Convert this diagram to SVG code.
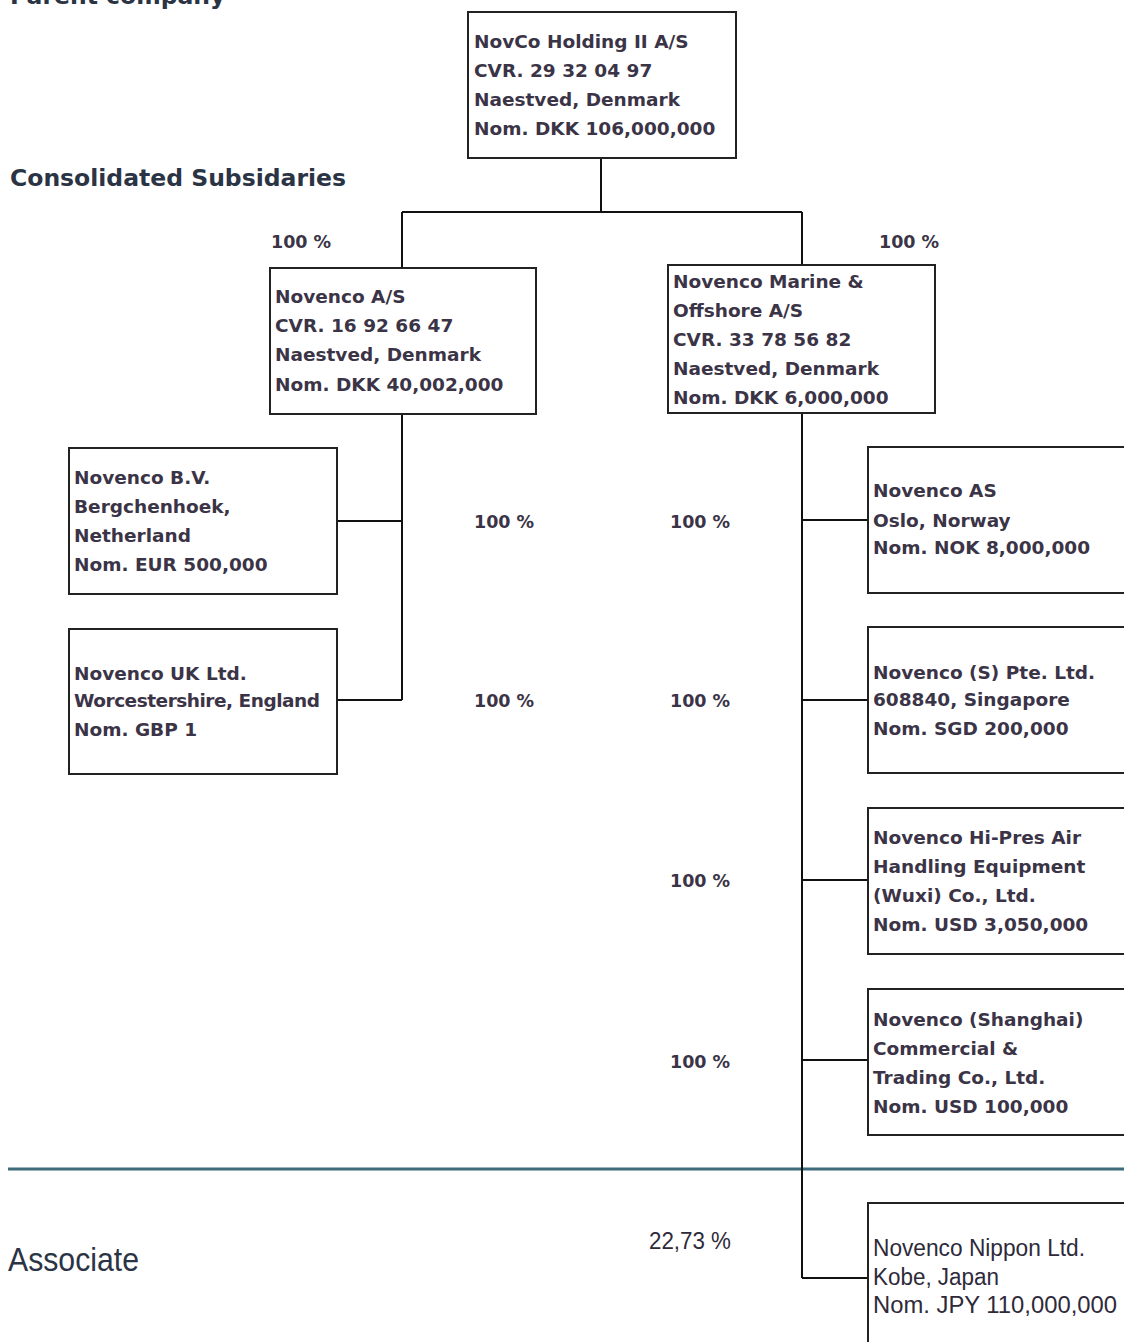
<svg xmlns="http://www.w3.org/2000/svg" width="1124" height="1342" viewBox="0 0 1124 1342">
<style>
.box{fill:#fff;stroke:#222;stroke-width:2}
.t{font-family:"DejaVu Sans",Verdana,sans-serif;font-weight:bold;font-size:18.5px;fill:#3b3447}
.n{font-family:"Liberation Sans",Arial,sans-serif;font-size:23px;fill:#2e2a3a}
.h{font-family:"DejaVu Sans",Verdana,sans-serif;font-weight:bold;font-size:23.5px;fill:#2b3445}
.pct{font-family:"DejaVu Sans",Verdana,sans-serif;font-weight:bold;font-size:17.5px;fill:#3b3447}
.c{fill:none;stroke:#111;stroke-width:2}
</style>
<rect width="1124" height="1342" fill="#fff"/>
<text class="h" x="10" y="4">Parent company</text>
<text class="h" x="10" y="186">Consolidated Subsidaries</text>
<text x="8" y="1271" font-family="'Liberation Sans',Arial,sans-serif" font-size="33" fill="#2b3445" textLength="131" lengthAdjust="spacingAndGlyphs">Associate</text>
<line x1="8" y1="1169" x2="1124" y2="1169" stroke="#3e6b7a" stroke-width="3"/>
<g id="connectors">
<path class="c" d="M601 158V212M402 212H802M402 212V268M802 212V265"/>
<path class="c" d="M402 414V700M337 521H402M337 700H402"/>
<path class="c" d="M802 413V1278M802 520H868M802 700H868M802 880H868M802 1060H868M802 1278H868"/>
</g>
<g id="labels">
<text class="pct" x="271" y="248">100 %</text>
<text class="pct" x="879" y="248">100 %</text>
<text class="pct" x="474" y="528">100 %</text>
<text class="pct" x="474" y="707">100 %</text>
<text class="pct" x="670" y="528">100 %</text>
<text class="pct" x="670" y="707">100 %</text>
<text class="pct" x="670" y="887">100 %</text>
<text class="pct" x="670" y="1068">100 %</text>
<text class="n" x="649" y="1249" textLength="82" lengthAdjust="spacingAndGlyphs">22,73 %</text>
</g>
<g id="novco-holding">
<rect class="box" x="468" y="12" width="268" height="146"/>
<text class="t" x="474" y="48">NovCo Holding II A/S</text>
<text class="t" x="474" y="77">CVR. 29 32 04 97</text>
<text class="t" x="474" y="106">Naestved, Denmark</text>
<text class="t" x="474" y="135">Nom. DKK 106,000,000</text>
</g>
<g id="novenco-as-dk">
<rect class="box" x="270" y="268" width="266" height="146"/>
<text class="t" x="275" y="303">Novenco A/S</text>
<text class="t" x="275" y="332">CVR. 16 92 66 47</text>
<text class="t" x="275" y="361">Naestved, Denmark</text>
<text class="t" x="275" y="391">Nom. DKK 40,002,000</text>
</g>
<g id="novenco-marine">
<rect class="box" x="668" y="265" width="267" height="148"/>
<text class="t" x="673" y="288">Novenco Marine &amp;</text>
<text class="t" x="673" y="317">Offshore A/S</text>
<text class="t" x="673" y="346">CVR. 33 78 56 82</text>
<text class="t" x="673" y="375">Naestved, Denmark</text>
<text class="t" x="673" y="404">Nom. DKK 6,000,000</text>
</g>
<g id="novenco-bv">
<rect class="box" x="69" y="448" width="268" height="146"/>
<text class="t" x="74" y="484">Novenco B.V.</text>
<text class="t" x="74" y="513">Bergchenhoek,</text>
<text class="t" x="74" y="542">Netherland</text>
<text class="t" x="74" y="571">Nom. EUR 500,000</text>
</g>
<g id="novenco-uk">
<rect class="box" x="69" y="629" width="268" height="145"/>
<text class="t" x="74" y="680">Novenco UK Ltd.</text>
<text class="t" x="74" y="707" textLength="246">Worcestershire, England</text>
<text class="t" x="74" y="736">Nom. GBP 1</text>
</g>
<g id="novenco-norway">
<rect class="box" x="868" y="447" width="270" height="146"/>
<text class="t" x="873" y="497">Novenco AS</text>
<text class="t" x="873" y="527">Oslo, Norway</text>
<text class="t" x="873" y="554">Nom. NOK 8,000,000</text>
</g>
<g id="novenco-singapore">
<rect class="box" x="868" y="627" width="270" height="146"/>
<text class="t" x="873" y="679">Novenco (S) Pte. Ltd.</text>
<text class="t" x="873" y="706">608840, Singapore</text>
<text class="t" x="873" y="735">Nom. SGD 200,000</text>
</g>
<g id="novenco-wuxi">
<rect class="box" x="868" y="808" width="270" height="146"/>
<text class="t" x="873" y="844">Novenco Hi-Pres Air</text>
<text class="t" x="873" y="873">Handling Equipment</text>
<text class="t" x="873" y="902">(Wuxi) Co., Ltd.</text>
<text class="t" x="873" y="931">Nom. USD 3,050,000</text>
</g>
<g id="novenco-shanghai">
<rect class="box" x="868" y="989" width="270" height="146"/>
<text class="t" x="873" y="1026">Novenco (Shanghai)</text>
<text class="t" x="873" y="1055">Commercial &amp;</text>
<text class="t" x="873" y="1084">Trading Co., Ltd.</text>
<text class="t" x="873" y="1113">Nom. USD 100,000</text>
</g>
<g id="novenco-nippon">
<rect class="box" x="868" y="1203" width="270" height="150"/>
<text class="n" x="873" y="1256" textLength="212" lengthAdjust="spacingAndGlyphs">Novenco Nippon Ltd.</text>
<text class="n" x="873" y="1285" textLength="126" lengthAdjust="spacingAndGlyphs">Kobe, Japan</text>
<text class="n" x="873" y="1313" textLength="244" lengthAdjust="spacingAndGlyphs">Nom. JPY 110,000,000</text>
</g>
</svg>
